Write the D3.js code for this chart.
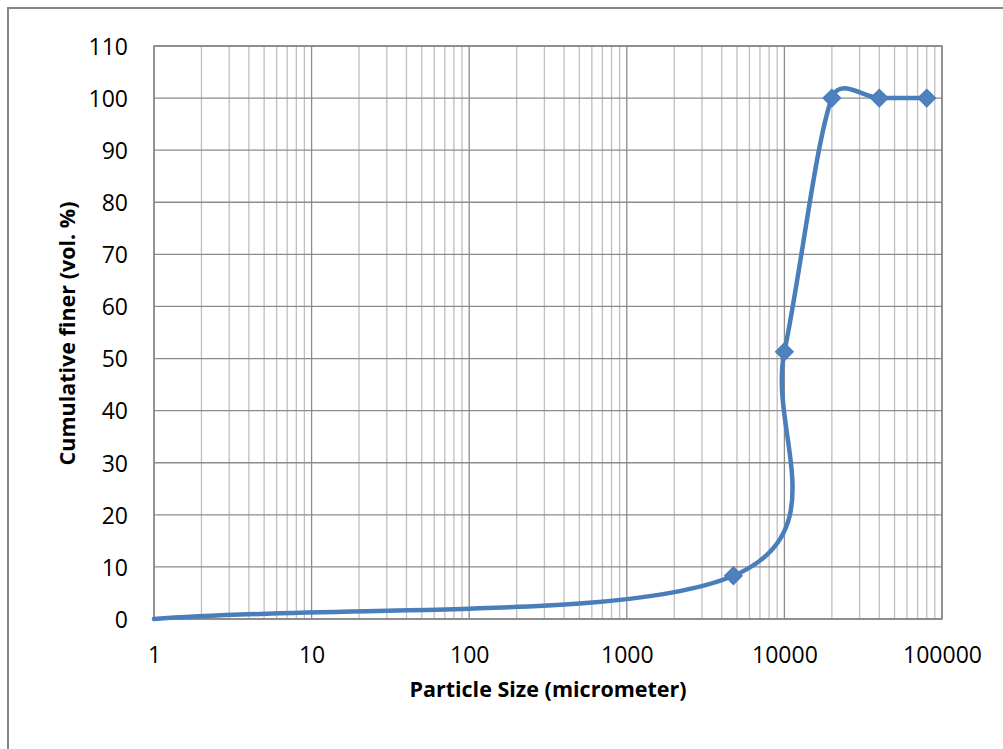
<!DOCTYPE html>
<html>
<head>
<meta charset="utf-8">
<script src="https://cdn.jsdelivr.net/npm/d3@7"></script>
<style>
  html, body { margin: 0; padding: 0; background: #fff; }
  svg { display: block; }
</style>
</head>
<body>
<svg id="chart" width="1003" height="749"></svg>
<script>
// ---- data ----
const particleSize = [1, 4750, 10000, 20000, 40000, 80000];      // micrometer
const cumulativeFiner = [0, 8.3, 51.3, 100, 100, 100];           // vol. %
const showMarker = [false, true, true, true, true, true];
const xTickValues = [1, 10, 100, 1000, 10000, 100000];
const xTickLabels = ["1", "10", "100", "1000", "10000", "100000"];
const yTickValues = [0, 10, 20, 30, 40, 50, 60, 70, 80, 90, 100, 110];
const xTitle = "Particle Size (micrometer)";
const yTitle = "Cumulative finer (vol. %)";

// ---- layout ----
const W = 1003, H = 749;
const plot = { left: 154, right: 942, top: 46, bottom: 619 };
const font = "'Open Sans', 'DejaVu Sans', sans-serif";

const svg = d3.select("#chart");

// outer chart border (only top/left visible in frame)
svg.append("rect")
  .attr("x", 8).attr("y", 8)
  .attr("width", W + 20).attr("height", H + 20)
  .attr("fill", "#fff")
  .attr("stroke", "#868686").attr("stroke-width", 2);

const x = d3.scaleLog().domain([1, 100000]).range([plot.left, plot.right]);
const y = d3.scaleLinear().domain([0, 110]).range([plot.bottom, plot.top]);

// minor vertical gridlines
const minorX = [];
for (let d = 1; d < 100000; d *= 10) {
  for (let m = 2; m <= 9; m++) minorX.push(d * m);
}
const g = svg.append("g");
g.selectAll("line.minor").data(minorX).enter().append("line")
  .attr("class", "minor")
  .attr("x1", d => x(d)).attr("x2", d => x(d))
  .attr("y1", plot.top).attr("y2", plot.bottom)
  .attr("stroke", "#bfbfbf").attr("stroke-width", 1.3);

g.selectAll("line.majorx").data(xTickValues).enter().append("line")
  .attr("class", "majorx")
  .attr("x1", d => x(d)).attr("x2", d => x(d))
  .attr("y1", plot.top).attr("y2", plot.bottom)
  .attr("stroke", "#8c8c8c").attr("stroke-width", 1.3);

g.selectAll("line.majory").data(yTickValues).enter().append("line")
  .attr("class", "majory")
  .attr("x1", plot.left).attr("x2", plot.right)
  .attr("y1", d => y(d)).attr("y2", d => y(d))
  .attr("stroke", "#8c8c8c").attr("stroke-width", 1.3);

svg.append("rect")
  .attr("x", plot.left).attr("y", plot.top)
  .attr("width", plot.right - plot.left).attr("height", plot.bottom - plot.top)
  .attr("fill", "none").attr("stroke", "#868686").attr("stroke-width", 1.5);

// axes (labels only)
const xAxis = d3.axisBottom(x)
  .tickValues(xTickValues)
  .tickFormat((d, i) => xTickLabels[i])
  .tickSize(0).tickPadding(0);
const xg = svg.append("g").attr("transform", `translate(0,${plot.bottom})`).call(xAxis);
xg.select(".domain").remove();
xg.selectAll("text")
  .attr("dy", null).attr("y", 44)
  .style("font-family", font).style("font-size", "23px").attr("fill", "#000");

const yAxis = d3.axisLeft(y)
  .tickValues(yTickValues)
  .tickFormat(d3.format("d"))
  .tickSize(0).tickPadding(0);
const yg = svg.append("g").attr("transform", `translate(${plot.left},0)`).call(yAxis);
yg.select(".domain").remove();
yg.selectAll("text")
  .attr("x", -26).attr("dy", "0.36em")
  .style("font-family", font).style("font-size", "23px").attr("fill", "#000");

// axis titles
svg.append("text")
  .attr("x", (plot.left + plot.right) / 2).attr("y", 697)
  .attr("text-anchor", "middle")
  .style("font-family", font).style("font-size", "21.5px").style("font-weight", "bold")
  .attr("fill", "#000")
  .text(xTitle);

svg.append("text")
  .attr("transform", `translate(75,${(plot.top + plot.bottom) / 2 + 1}) rotate(-90)`)
  .attr("text-anchor", "middle")
  .style("font-family", font).style("font-size", "21.5px").style("font-weight", "bold")
  .attr("fill", "#000")
  .text(yTitle);

// Excel-like smoothed curve (Bezier with limited Catmull-Rom tangents)
function excelSmooth(context) {
  let pts = [];
  return {
    areaStart() {}, areaEnd() {},
    lineStart() { pts = []; },
    point(px, py) { pts.push([px, py]); },
    lineEnd() {
      const n = pts.length;
      if (!n) return;
      const dist = (a, b) => Math.hypot(b[0] - a[0], b[1] - a[1]);
      context.moveTo(pts[0][0], pts[0][1]);
      for (let i = 0; i < n - 1; i++) {
        const p1 = pts[i], p2 = pts[i + 1];
        const seg = dist(p1, p2);
        let c1, c2;
        if (i === 0) {
          c1 = [p1[0] + (p2[0] - p1[0]) / 3, p1[1] + (p2[1] - p1[1]) / 3];
        } else {
          const p0 = pts[i - 1];
          const f = Math.min(1 / 6, 0.5 * seg / dist(p0, p2));
          c1 = [p1[0] + (p2[0] - p0[0]) * f, p1[1] + (p2[1] - p0[1]) * f];
        }
        if (i === n - 2) {
          c2 = [p2[0] - (p2[0] - p1[0]) / 3, p2[1] - (p2[1] - p1[1]) / 3];
        } else {
          const p3 = pts[i + 2];
          const f = Math.min(1 / 6, 0.5 * seg / dist(p1, p3));
          c2 = [p2[0] - (p3[0] - p1[0]) * f, p2[1] - (p3[1] - p1[1]) * f];
        }
        context.bezierCurveTo(c1[0], c1[1], c2[0], c2[1], p2[0], p2[1]);
      }
    }
  };
}

const pts = particleSize.map((s, i) => ({ s, v: cumulativeFiner[i], m: showMarker[i] }));
const line = d3.line()
  .x(d => x(d.s)).y(d => y(d.v))
  .curve(excelSmooth);
svg.append("path")
  .datum(pts)
  .attr("d", line)
  .attr("fill", "none")
  .attr("stroke", "#4a7ebb").attr("stroke-width", 4.5)
  .attr("stroke-linejoin", "round").attr("stroke-linecap", "round");

const diamond = d3.symbol().type(d3.symbolDiamond2).size(190);
svg.selectAll("path.marker").data(pts.filter(d => d.m)).enter().append("path")
  .attr("class", "marker")
  .attr("d", diamond)
  .attr("transform", d => `translate(${x(d.s)},${y(d.v)})`)
  .attr("fill", "#4f81bd").attr("stroke", "#4a7ebb").attr("stroke-width", 1.5);
</script>
</body>
</html>
